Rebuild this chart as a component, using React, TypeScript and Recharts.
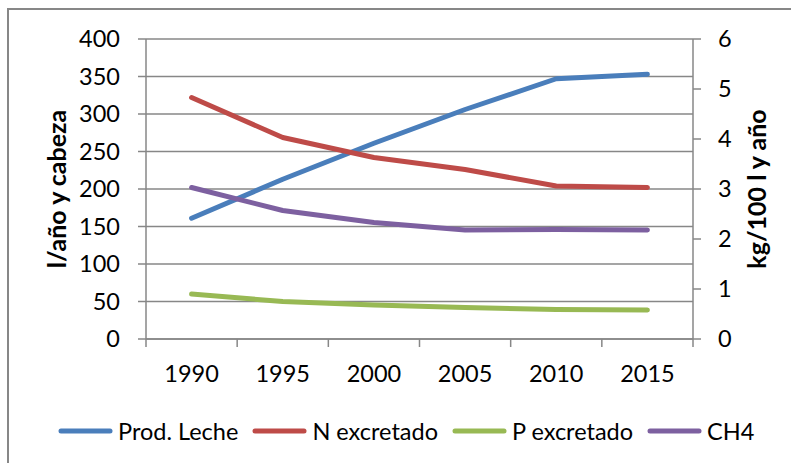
import React from 'react';
import { LineChart, Line, XAxis, YAxis, CartesianGrid, Legend, Label } from 'recharts';

// values
const years = ['1990', '1995', '2000', '2005', '2010', '2015'];
const prodLeche = [161, 213, 261, 306, 347, 353];
const nExcretado = [4.83, 4.03, 3.63, 3.39, 3.06, 3.03];
const pExcretado = [0.9, 0.75, 0.68, 0.63, 0.59, 0.58];
const ch4 = [3.03, 2.57, 2.33, 2.18, 2.19, 2.18];

const leftTicks = [0, 50, 100, 150, 200, 250, 300, 350, 400];
const rightTicks = [0, 1, 2, 3, 4, 5, 6];

const W = 791;
const H = 463;
const LEFT_W = 146;
const RIGHT_W = 98;
const PLOT_W = W - LEFT_W - RIGHT_W;
const BAND = PLOT_W / years.length;
const FONT = 'Lato, "Open Sans", sans-serif';
const GRID = '#878787';
const TICK_FS = 23.5;

const series = [
  { key: 'prod', name: 'Prod. Leche', color: '#4a7ebb', axis: 'left' },
  { key: 'n', name: 'N excretado', color: '#be4b48', axis: 'right' },
  { key: 'p', name: 'P excretado', color: '#98b954', axis: 'right' },
  { key: 'ch4', name: 'CH4', color: '#7d60a0', axis: 'right' },
];

const data = years.map((y, i) => ({
  year: y,
  prod: prodLeche[i],
  n: nExcretado[i],
  p: pExcretado[i],
  ch4: ch4[i],
}));

const XTick = (props: any) => {
  const { x, y, payload, index } = props;
  const last = index === years.length - 1;
  return (
    <g>
      <line x1={x - BAND / 2} x2={x - BAND / 2} y1={y} y2={y + 8} stroke={GRID} strokeWidth={1.5} />
      {last && <line x1={x + BAND / 2} x2={x + BAND / 2} y1={y} y2={y + 8} stroke={GRID} strokeWidth={1.5} />}
      <text x={x} y={y + 35} dy="0.35em" textAnchor="middle" fontSize={TICK_FS} fontFamily={FONT} fill="#000">
        {payload.value}
      </text>
    </g>
  );
};

const LegendContent = () => (
  <div style={{ display: 'flex', alignItems: 'center', height: 30, paddingLeft: 58, fontFamily: FONT, fontSize: 23.5 }}>
    {series.map((s) => (
      <div key={s.key} style={{ display: 'flex', alignItems: 'center', marginRight: 14 }}>
        <svg width={55} height={8} style={{ marginRight: 5 }}>
          <line x1={3} x2={52} y1={4} y2={4} stroke={s.color} strokeWidth={5} strokeLinecap="round" />
        </svg>
        <span style={{ color: '#000', whiteSpace: 'nowrap' }}>{s.name}</span>
      </div>
    ))}
  </div>
);

export default function App() {
  return (
    <div style={{ position: 'relative', width: W, height: H, background: '#fff', overflow: 'hidden' }}>
      <style>{`body{margin:0}`}</style>
      <div
        style={{
          position: 'absolute',
          left: 7,
          top: 8,
          right: -10,
          bottom: -10,
          borderLeft: `2px solid ${GRID}`,
          borderTop: `2px solid ${GRID}`,
        }}
      />
      <LineChart width={W} height={H} data={data} margin={{ top: 39, right: 0, bottom: 17, left: 0 }}>
        <CartesianGrid yAxisId="left" vertical={false} stroke={GRID} strokeWidth={1.5} />
        <XAxis
          dataKey="year"
          height={77}
          padding={{ left: BAND / 2, right: BAND / 2 }}
          axisLine={{ stroke: GRID, strokeWidth: 1.5 }}
          tickLine={false}
          tickSize={0}
          tickMargin={0}
          tick={<XTick />}
          interval={0}
        />
        <YAxis
          yAxisId="left"
          width={LEFT_W}
          domain={[0, 400]}
          ticks={leftTicks}
          interval={0}
          axisLine={{ stroke: GRID, strokeWidth: 1.5 }}
          tickLine={{ stroke: GRID, strokeWidth: 1.5 }}
          tickSize={8}
          tickMargin={18}
          tick={{ fontSize: TICK_FS, fontFamily: FONT, fill: '#000' }}
        >
          <Label
            value="l/año y cabeza"
            angle={-90}
            position="center"
            dx={-16}
            style={{ fontSize: 25, fontWeight: 700, fontFamily: FONT, fill: '#000' }}
          />
        </YAxis>
        <YAxis
          yAxisId="right"
          orientation="right"
          width={RIGHT_W}
          domain={[0, 6]}
          ticks={rightTicks}
          interval={0}
          axisLine={{ stroke: GRID, strokeWidth: 1.5 }}
          tickLine={{ stroke: GRID, strokeWidth: 1.5 }}
          tickSize={8}
          tickMargin={17}
          tick={{ fontSize: TICK_FS, fontFamily: FONT, fill: '#000' }}
        >
          <Label
            value="kg/100 l y  año"
            angle={-90}
            position="center"
            dx={15}
            style={{ fontSize: 25, fontWeight: 700, fontFamily: FONT, fill: '#000', whiteSpace: 'pre' }}
          />
        </YAxis>
        <Legend verticalAlign="bottom" height={30} content={<LegendContent />} wrapperStyle={{ left: 0, width: W }} />
        {series.map((s) => (
          <Line
            key={s.key}
            yAxisId={s.axis}
            dataKey={s.key}
            name={s.name}
            stroke={s.color}
            strokeWidth={5}
            strokeLinecap="round"
            strokeLinejoin="round"
            dot={false}
            activeDot={false}
            isAnimationActive={false}
          />
        ))}
      </LineChart>
    </div>
  );
}
